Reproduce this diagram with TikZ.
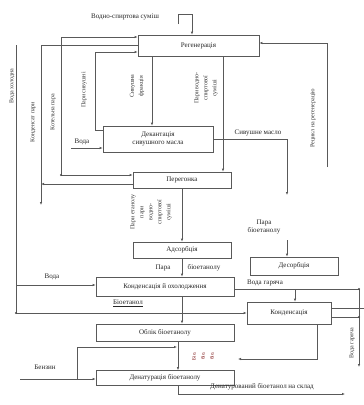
\documentclass[tikz,border=0pt]{standalone}
\usepackage{fontspec}
\setmainfont{Liberation Serif}
\usetikzlibrary{arrows.meta}
\begin{document}
\begin{tikzpicture}[x=1pt,y=-1pt,
  box/.style={draw=black!65, line width=0.6pt, fill=white, inner sep=0pt, font=\fontsize{7}{8.5}\selectfont, align=center, text=black!85},
  lbl/.style={font=\fontsize{7}{8}\selectfont, inner sep=0.5pt, text=black!85, align=center},
  vl/.style={rotate=90, align=center, inner sep=0.5pt, text=black!80, font=\fontsize{6}{9}\selectfont},
  ln/.style={draw=black!65, line width=0.6pt},
  arr/.style={ln, -{Latex[length=3pt,width=2.4pt]}},
  arrb/.style={ln, {Latex[length=3pt,width=2.4pt]}-{Latex[length=3pt,width=2.4pt]}},
  dotc/.style={circle, fill=black!70, inner sep=0pt, minimum size=2.2pt}
]
\fill[white] (0,0) rectangle (364,405);
\useasboundingbox (0,0) rectangle (364,405);

% boxes
\node[box, minimum width=121pt, minimum height=21pt] (reg) at (198.5,45.5) {Регенерація};
\node[box, minimum width=110pt, minimum height=26pt] (dek) at (158,139) {Декантація\\сивушного масла};
\node[box, minimum width=98pt, minimum height=16pt] (per) at (182,180) {Перегонка};
\node[box, minimum width=98pt, minimum height=16pt] (ads) at (182,250) {Адсорбція};
\node[box, minimum width=88pt, minimum height=18pt] (des) at (294,266) {Десорбція};
\node[box, minimum width=138pt, minimum height=19pt] (koh) at (165,286.5) {Конденсація й охолодження};
\node[box, minimum width=84pt, minimum height=22pt] (kon) at (289,313) {Конденсація};
\node[box, minimum width=138pt, minimum height=17pt] (obl) at (165,332.5) {Облік біоетанолу};
\node[box, minimum width=138pt, minimum height=15pt] (den) at (165,378) {Денатурація біоетанолу};

% free ends
\coordinate (wsA) at (178,24);
\coordinate (wsB) at (192,14);
\coordinate (steam) at (61,175);
\coordinate (condOut) at (41,205);
\coordinate (sivX) at (95,52);
\coordinate (vodaDek) at (71,148);
\coordinate (oilOut) at (287,195);
\coordinate (recyc) at (327,167);
\coordinate (paraIn) at (287,240);
\coordinate (coldTop) at (16,45);
\coordinate (coldMid) at (16,285);
\coordinate (coldBot) at (16,313);
\coordinate (hotA) at (359,289);
\coordinate (hotB) at (359,317);
\coordinate (hotOut) at (359,367);
\coordinate (hotR) at (364,308);
\coordinate (kbot) at (238,359);
\coordinate (benz) at (20,379);
\coordinate (benzJ) at (77,379);
\coordinate (benzT) at (177,347);
\coordinate (sklad) at (345,394);

% labels
\node[lbl] (tin) at (125,17) {Водно-спиртова суміш};
\node[lbl] at (82,142) {Вода};
\node[lbl] at (258,133) {Сивушне масло};
\node[lbl] at (264,227) {Пара\\біоетанолу};
\node[lbl] at (163,268) {Пара};
\node[lbl] at (204,268) {біоетанолу};
\node[lbl] at (52,277) {Вода};
\node[lbl] at (265,283) {Вода гаряча};
\node[lbl] at (128,303) {\underline{Біоетанол}};
\node[lbl] at (45,367) {Бензин};
\node[lbl] at (262,387) {Денатурований біоетанол на склад};

% vertical labels
\node[vl] at (12,86) {Вода холодна};
\node[vl] at (33,122) {Конденсат пари};
\node[vl] at (53,112) {Котельна пара};
\node[vl] at (84,90) {Пари сивушні};
\node[vl] at (137,86) {Сивушна\\фракція};
\node[vl] at (206,88) {Пари водно-\\спиртової\\суміші};
\node[vl] at (313,118) {Рецикл на регенерацію};
\node[vl] at (151,212) {Пари етанолу\\пари\\водно-\\спиртової\\суміші};
\node[vl, text=red!45!black, font=\fontsize{5}{9}\selectfont] at (203,356) {Біо.\\біо.\\біо.};
\node[vl] at (352,343) {Вода гаряча};

% connectors
\draw[arr] (wsA) |- (wsB) -- (reg.north -| wsB);
\draw[arrb] (reg.west |- 0,37) -| (steam) -- (per.west |- steam);
\draw[arr] (reg.west |- 0,45) -| (condOut);
\draw[arr] (per.west |- 0,184) -- (41,184);
\draw[arr] (dek.west |- 0,130) -| (sivX) -- (reg.west |- sivX);
\draw[arr] (reg.south -| 152,0) -- (dek.north -| 152,0);
\draw[arr] (reg.south -| 223,0) -- (per.north -| 223,0);
\draw[arr] (vodaDek) -- (dek.west |- vodaDek);
\draw[arr] (dek.east |- 0,139) -| (oilOut);
\draw[arr] (recyc) |- (reg.east |- 0,43);
\draw[arr] (per.south) -- (ads.north);
\draw[arr] (paraIn) -- (des.north -| paraIn);
\draw[arr] (ads.south) -- (koh.north -| ads.south);
\draw[ln] (coldTop) -- (coldBot);
\draw[arr] (coldMid) -- (koh.west |- coldMid);
\draw[arr] (coldBot) -- (kon.west |- coldBot);
\draw[arr, line width=1pt] (koh.south -| ads.south) -- (obl.north -| ads.south);
\draw[ln] (koh.east |- hotA) -- (hotA);
\draw[arr] (295,289) -- (kon.north -| 295,0);
\draw[ln] (kon.east |- hotR) -- (hotR);
\draw[ln] (kon.east |- hotB) -- (hotB);
\draw[arr] (hotA) -- (hotOut);
\draw[arr] (kon.south -| 317,0) |- (kbot);
\draw[arr] (obl.south -| 178,0) -- (den.north -| 178,0);
\draw[arr] (benz) -- (den.west |- benz);
\draw[arr] (benzJ) |- (benzT);
\draw[arr] (den.south -| 178,0) |- (sklad);

% junction dots
\node[dotc] at (steam) {};
\node[dotc] at (coldBot) {};
\node[dotc] at (hotA) {};
\node[dotc] at (hotB) {};
\end{tikzpicture}
\end{document}
